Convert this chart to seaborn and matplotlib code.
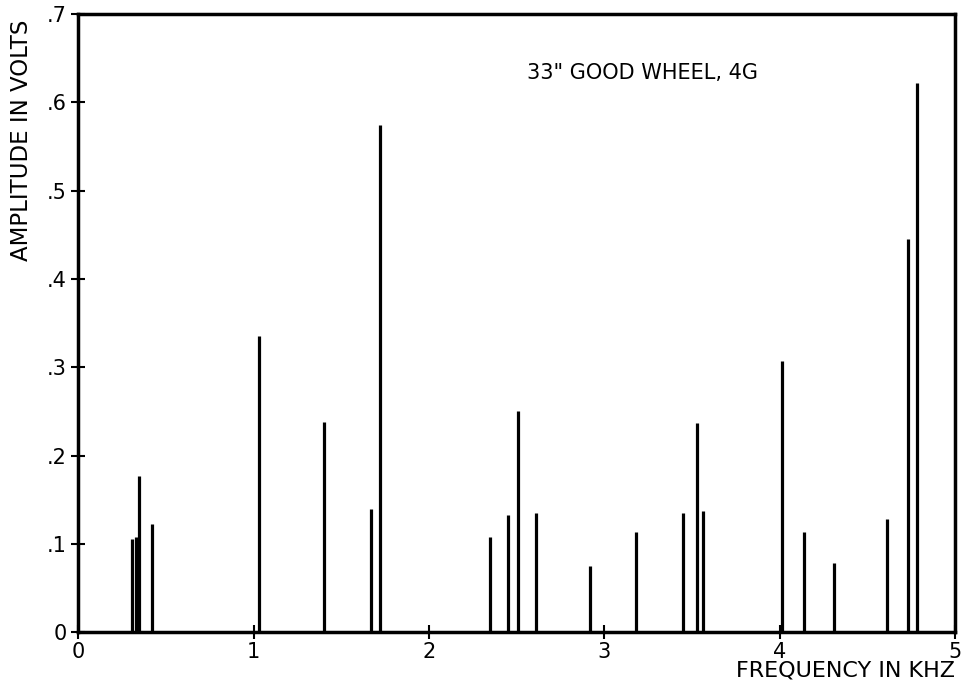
import matplotlib
matplotlib.use("Agg")
import matplotlib.pyplot as plt
import seaborn as sns
import pandas as pd

# Spectral line frequencies (kHz) and amplitudes (volts)
freq_khz = [0.31, 0.33, 0.35, 0.42, 1.03, 1.40, 1.67, 1.72,
            2.35, 2.45, 2.51, 2.61, 2.92, 3.18, 3.45, 3.53, 3.56,
            4.01, 4.14, 4.31, 4.61, 4.73, 4.78]
amp_volts = [0.105, 0.108, 0.177, 0.122, 0.335, 0.238, 0.140, 0.574,
             0.108, 0.133, 0.251, 0.135, 0.075, 0.113, 0.135, 0.237, 0.137,
             0.307, 0.113, 0.078, 0.128, 0.445, 0.622]

x_ticks = [0, 1, 2, 3, 4, 5]
x_tick_labels = ["0", "1", "2", "3", "4", "5"]
y_ticks = [0, 0.1, 0.2, 0.3, 0.4, 0.5, 0.6, 0.7]
y_tick_labels = ["0", ".1", ".2", ".3", ".4", ".5", ".6", ".7"]

title_text = '33" GOOD WHEEL, 4G'
x_label = "FREQUENCY IN KHZ"
y_label = "AMPLITUDE IN VOLTS"

spectrum = pd.DataFrame({"freq": freq_khz, "amp": amp_volts})

sns.set_theme(style="ticks")
plt.rcParams["font.family"] = ["DejaVu Sans"]

fig = plt.figure(figsize=(9.64, 6.91), dpi=100)
ax = fig.add_axes([0.081, 0.085, 0.910, 0.895])

ax.vlines("freq", 0, "amp", data=spectrum, colors="black", linewidth=2.3)

ax.set_xlim(0, 5)
ax.set_ylim(0, 0.7)

ax.set_xticks(x_ticks)
ax.set_xticklabels(x_tick_labels)
ax.set_yticks(y_ticks)
ax.set_yticklabels(y_tick_labels)

ax.tick_params(axis="both", direction="inout", length=10, width=1.5,
               color="black", labelsize=15, labelcolor="black", pad=3)
ax.tick_params(axis="x", pad=2)

for side in ["left", "right", "top", "bottom"]:
    ax.spines[side].set_visible(True)
    ax.spines[side].set_linewidth(2.5)
    ax.spines[side].set_color("black")

ax.text(0.643, 0.905, title_text, transform=ax.transAxes,
        fontsize=15, color="black", ha="center", va="center")

ax.text(1.0, -0.062, x_label, transform=ax.transAxes,
        fontsize=16, color="black", ha="right", va="center")
ax.text(-0.064, 0.99, y_label, transform=ax.transAxes, rotation=90,
        fontsize=16.5, color="black", ha="center", va="top")

ax.grid(False)
fig.savefig("out.png", dpi=100, facecolor="white")
